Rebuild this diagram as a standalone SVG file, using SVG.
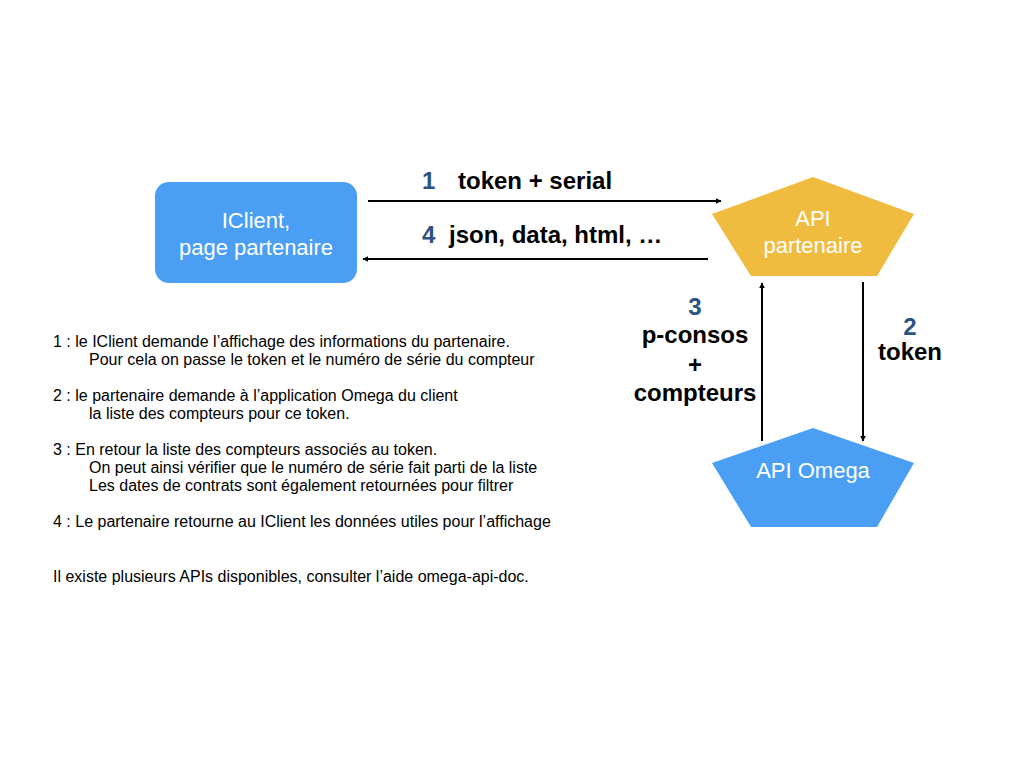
<svg xmlns="http://www.w3.org/2000/svg" width="1024" height="768" viewBox="0 0 1024 768">
<defs>
<style>
.node-text{font-family:"Liberation Sans",Arial,sans-serif;font-size:22px;fill:#ffffff;text-anchor:middle}
.lbl{font-family:"Liberation Sans",Arial,sans-serif;font-size:24px;font-weight:bold;fill:#000000}
.num{fill:#2c5282}
.note{font-family:"Liberation Sans",Arial,sans-serif;font-size:16px;fill:#000000}
.conn{stroke:#000000;stroke-width:2;fill:none;marker-end:url(#ah)}
</style>
<marker id="ah" viewBox="0 0 10 10" refX="9" refY="5" markerWidth="6" markerHeight="6" markerUnits="userSpaceOnUse" orient="auto">
<path d="M0,0 L10,5 L0,10 z" fill="#000000"/>
</marker>
</defs>
<rect width="1024" height="768" fill="#ffffff"/>
<g id="iclient">
<rect x="155" y="182" width="202" height="101" rx="14" fill="#4a9ff5"/>
<text class="node-text" x="256" y="228">IClient,</text>
<text class="node-text" x="256" y="255">page partenaire</text>
</g>
<g id="api-partenaire">
<polygon points="813,177 712,214 751,276 877,276 914,214" fill="#f0bc40"/>
<text class="node-text" x="813" y="226">API</text>
<text class="node-text" x="813" y="253">partenaire</text>
</g>
<g id="api-omega">
<polygon points="813,428 712,463 751,527 877,527 914,463" fill="#4a9ff5"/>
<text class="node-text" x="813" y="478">API Omega</text>
</g>
<g id="connectors">
<line class="conn" x1="368" y1="201" x2="721" y2="201"/>
<line class="conn" x1="708" y1="259" x2="363" y2="259"/>
<line class="conn" x1="762" y1="441" x2="762" y2="283"/>
<line class="conn" x1="863" y1="282" x2="863" y2="441"/>
</g>
<g id="labels">
<text class="lbl num" x="422" y="189">1</text>
<text class="lbl" x="458" y="189">token + serial</text>
<text class="lbl num" x="422" y="243">4</text>
<text class="lbl" x="449" y="243">json, data, html, …</text>
<text class="lbl num" x="695" y="315" text-anchor="middle">3</text>
<text class="lbl" x="695" y="343" text-anchor="middle">p-consos</text>
<text class="lbl" x="695" y="373" text-anchor="middle">+</text>
<text class="lbl" x="695" y="401" text-anchor="middle">compteurs</text>
<text class="lbl num" x="910" y="335" text-anchor="middle">2</text>
<text class="lbl" x="910" y="360" text-anchor="middle">token</text>
</g>
<g id="notes">
<text class="note" x="53" y="347">1 : le IClient demande l’affichage des informations du partenaire.</text>
<text class="note" x="89" y="365">Pour cela on passe le token et le numéro de série du compteur</text>
<text class="note" x="53" y="401">2 : le partenaire demande à l’application Omega du client</text>
<text class="note" x="89" y="419">la liste des compteurs pour ce token.</text>
<text class="note" x="53" y="455">3 : En retour la liste des compteurs associés au token.</text>
<text class="note" x="89" y="473">On peut ainsi vérifier que le numéro de série fait parti de la liste</text>
<text class="note" x="89" y="491">Les dates de contrats sont également retournées pour filtrer</text>
<text class="note" x="53" y="527">4 : Le partenaire retourne au IClient les données utiles pour l’affichage</text>
<text class="note" x="53" y="582">Il existe plusieurs APIs disponibles, consulter l’aide omega-api-doc.</text>
</g>
</svg>
